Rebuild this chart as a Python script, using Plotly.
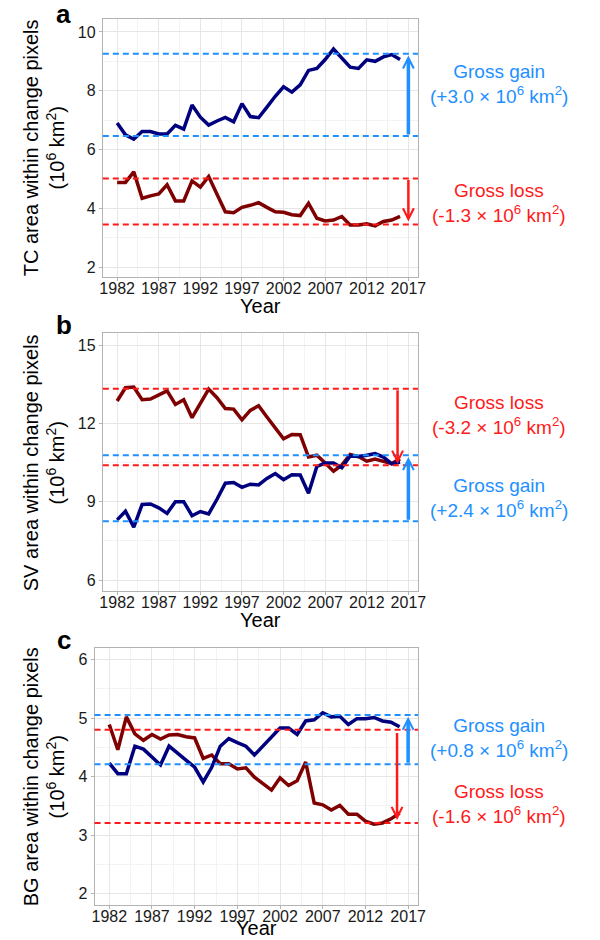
import plotly.graph_objects as go

years = list(range(1982, 2017))

# Panel a: tree cover (TC)
tc_gain = [6.90, 6.50, 6.35, 6.61, 6.61, 6.53, 6.53, 6.82, 6.69, 7.51,
           7.10, 6.83, 6.97, 7.09, 6.94, 7.56, 7.12, 7.08, 7.44, 7.81,
           8.13, 7.95, 8.20, 8.69, 8.76, 9.06, 9.42, 9.11, 8.80, 8.76,
           9.05, 9.00, 9.15, 9.23, 9.06]
tc_loss = [4.88, 4.88, 5.24, 4.34, 4.42, 4.49, 4.80, 4.25, 4.25, 4.93,
           4.72, 5.08, 4.48, 3.88, 3.85, 4.03, 4.10, 4.19, 4.03, 3.88,
           3.86, 3.78, 3.75, 4.17, 3.66, 3.57, 3.60, 3.72, 3.43, 3.43,
           3.47, 3.40, 3.55, 3.60, 3.72]

# Panel b: short vegetation (SV)
sv_gain = [8.31, 8.64, 8.03, 8.90, 8.92, 8.77, 8.56, 9.01, 9.01, 8.47,
           8.63, 8.54, 9.10, 9.72, 9.74, 9.56, 9.68, 9.65, 9.90, 10.09,
           9.85, 10.04, 10.03, 9.33, 10.36, 10.49, 10.49, 10.31, 10.76, 10.74,
           10.79, 10.85, 10.72, 10.46, 10.53]
sv_loss = [12.87, 13.38, 13.41, 12.92, 12.95, 13.10, 13.26, 12.74, 12.92, 12.23,
           12.77, 13.33, 13.00, 12.58, 12.56, 12.15, 12.51, 12.69, 12.26, 11.85,
           11.42, 11.59, 11.58, 10.72, 10.79, 10.49, 10.18, 10.41, 10.82, 10.74,
           10.56, 10.64, 10.55, 10.47, 10.65]

# Panel c: bare ground (BG)
bg_gain = [4.23, 4.05, 4.05, 4.52, 4.47, 4.34, 4.20, 4.52, 4.40, 4.29,
           4.16, 3.91, 4.16, 4.52, 4.65, 4.58, 4.52, 4.37, 4.53, 4.69,
           4.83, 4.83, 4.72, 4.95, 4.97, 5.09, 5.02, 5.03, 4.89, 4.99,
           4.99, 5.01, 4.95, 4.93, 4.85]
bg_loss = [4.89, 4.46, 5.02, 4.73, 4.62, 4.72, 4.64, 4.71, 4.72, 4.68,
           4.66, 4.31, 4.37, 4.22, 4.22, 4.13, 4.15, 3.99, 3.88, 3.77,
           3.98, 3.85, 3.93, 4.25, 3.55, 3.52, 3.43, 3.51, 3.36, 3.36,
           3.24, 3.19, 3.21, 3.28, 3.38]

# Dashed reference levels [low, high]
tc_gain_levels = [6.46, 9.26]
tc_loss_levels = [3.45, 5.01]
sv_gain_levels = [8.26, 10.79]
sv_loss_levels = [10.41, 13.34]
bg_gain_levels = [4.21, 5.05]
bg_loss_levels = [3.21, 4.80]

# Arrows: (x year, start, end)
tc_gain_arrow = (2017.0, 6.46, 9.20)
tc_loss_arrow = (2017.0, 5.01, 3.55)
sv_gain_arrow = (2017.0, 8.26, 10.72)
sv_loss_arrow = (2015.7, 13.34, 10.46)
bg_gain_arrow = (2017.0, 4.21, 5.02)
bg_loss_arrow = (2015.7, 4.77, 3.26)

gain_labels = ["Gross gain<br>(+3.0 × 10<sup>6</sup> km<sup>2</sup>)",
               "Gross gain<br>(+2.4 × 10<sup>6</sup> km<sup>2</sup>)",
               "Gross gain<br>(+0.8 × 10<sup>6</sup> km<sup>2</sup>)"]
loss_labels = ["Gross loss<br>(-1.3 × 10<sup>6</sup> km<sup>2</sup>)",
               "Gross loss<br>(-3.2 × 10<sup>6</sup> km<sup>2</sup>)",
               "Gross loss<br>(-1.6 × 10<sup>6</sup> km<sup>2</sup>)"]
y_titles = ["TC area within change pixels<br>(10<sup>6</sup> km<sup>2</sup>)",
            "SV area within change pixels<br>(10<sup>6</sup> km<sup>2</sup>)",
            "BG area within change pixels<br>(10<sup>6</sup> km<sup>2</sup>)"]
panel_letters = ["a", "b", "c"]
x_ticks = [1982, 1987, 1992, 1997, 2002, 2007, 2012, 2017]

NAVY = "#00007f"
DARKRED = "#7f0000"
BLUE = "#1e90ff"
RED = "#ff1a1a"
FONT = "Liberation Sans, Arial, sans-serif"
W, H = 600, 940

panels = [
    dict(gain=tc_gain, loss=tc_loss, gl=tc_gain_levels, ll=tc_loss_levels,
         ga=tc_gain_arrow, la=tc_loss_arrow, yr=[1.66, 10.44], dt=2, t0=2,
         px=(101.7, 422.7), py=(19, 277), gain_y=83.5, loss_y=203.5, title_y=148,
         year_y=306, letter_y=14),
    dict(gain=sv_gain, loss=sv_loss, gl=sv_gain_levels, ll=sv_loss_levels,
         ga=sv_gain_arrow, la=sv_loss_arrow, yr=[5.58, 15.47], dt=3, t0=6,
         px=(101.7, 422.7), py=(333.3, 591), gain_y=498.5, loss_y=415, title_y=463,
         year_y=620, letter_y=325),
    dict(gain=bg_gain, loss=bg_loss, gl=bg_gain_levels, ll=bg_loss_levels,
         ga=bg_gain_arrow, la=bg_loss_arrow, yr=[1.81, 6.19], dt=1, t0=2,
         px=(93.3, 422.7), py=(648.3, 905), gain_y=737.5, loss_y=803.5, title_y=777,
         year_y=None, letter_y=640),
]

fig = go.Figure()
annotations = []
shapes = []
xrange_ = [1980.28, 2018.15]

for i, p in enumerate(panels):
    n = "" if i == 0 else str(i + 1)
    xa, ya = "x" + n, "y" + n
    fig.add_trace(go.Scatter(x=years, y=p["loss"], mode="lines", xaxis=xa, yaxis=ya,
                             line=dict(color=DARKRED, width=3.5), showlegend=False))
    fig.add_trace(go.Scatter(x=years, y=p["gain"], mode="lines", xaxis=xa, yaxis=ya,
                             line=dict(color=NAVY, width=3.5), showlegend=False))
    for lev, col in [(p["gl"][0], BLUE), (p["gl"][1], BLUE),
                     (p["ll"][0], RED), (p["ll"][1], RED)]:
        shapes.append(dict(type="line", xref=xa + " domain", yref=ya, x0=0, x1=1,
                           y0=lev, y1=lev, line=dict(color=col, width=2, dash="6px,4px"),
                           layer="above"))
    for arr, col, w, sz in [(p["ga"], BLUE, 3.5, 0.6), (p["la"], RED, 2.5, 0.85)]:
        annotations.append(dict(x=arr[0], y=arr[2], ax=arr[0], ay=arr[1],
                                xref=xa, yref=ya, axref=xa, ayref=ya, text="",
                                showarrow=True, arrowhead=5, arrowsize=sz,
                                arrowwidth=w, arrowcolor=col))
    # right-hand labels
    annotations.append(dict(x=505 / W, y=1 - p["gain_y"] / H, xref="paper", yref="paper",
                            text=gain_labels[i], showarrow=False, xanchor="center",
                            yanchor="middle", font=dict(color=BLUE, size=19, family=FONT)))
    annotations.append(dict(x=505 / W, y=1 - p["loss_y"] / H, xref="paper", yref="paper",
                            text=loss_labels[i], showarrow=False, xanchor="center",
                            yanchor="middle", font=dict(color=RED, size=19, family=FONT)))
    # y title
    annotations.append(dict(x=42 / W, y=1 - p["title_y"] / H, xref="paper", yref="paper",
                            text=y_titles[i], showarrow=False, textangle=-90,
                            xanchor="center", yanchor="middle",
                            font=dict(color="black", size=20, family=FONT)))
    # x title
    xmid = ((p["px"][0] + p["px"][1]) / 2) / W
    if p["year_y"] is None:
        annotations.append(dict(x=xmid, y=0, xref="paper", yref="paper", text="Year",
                                showarrow=False, xanchor="center", yanchor="bottom",
                                borderpad=0,
                                font=dict(color="black", size=20, family=FONT)))
    else:
        annotations.append(dict(x=xmid, y=1 - p["year_y"] / H, xref="paper", yref="paper",
                                text="Year", showarrow=False, xanchor="center",
                                yanchor="middle", borderpad=0,
                                font=dict(color="black", size=20, family=FONT)))
    # panel letter
    annotations.append(dict(x=62 / W, y=1 - p["letter_y"] / H, xref="paper", yref="paper",
                            text="<b>" + panel_letters[i] + "</b>", showarrow=False,
                            xanchor="center", yanchor="middle",
                            font=dict(color="black", size=26, family=FONT)))

    axis_common = dict(showline=True, mirror=True, linecolor="#b3b3b3", linewidth=1,
                       showgrid=True, gridcolor="#e6e6e6", gridwidth=1,
                       ticks="outside", ticklen=3, tickcolor="#b3b3b3",
                       tickfont=dict(size=16, color="#1a1a1a", family=FONT),
                       zeroline=False)
    fig.layout["xaxis" + n] = dict(
        axis_common, domain=[p["px"][0] / W, p["px"][1] / W], anchor=ya,
        range=xrange_, tickmode="array", tickvals=x_ticks,
        ticktext=[str(t) for t in x_ticks], ticklabelstandoff=-6,
        minor=dict(tickvals=[t + 2.5 for t in x_ticks[:-1]], showgrid=True,
                   gridcolor="#f3f3f3", ticks=""))
    fig.layout["yaxis" + n] = dict(
        axis_common, domain=[1 - p["py"][1] / H, 1 - p["py"][0] / H], anchor=xa,
        range=p["yr"], tick0=p["t0"], dtick=p["dt"],
        minor=dict(dtick=p["dt"] / 2, tick0=p["t0"], showgrid=True,
                   gridcolor="#f3f3f3", ticks=""))

fig.update_layout(width=W, height=H, margin=dict(l=0, r=0, t=0, b=0),
                  paper_bgcolor="white", plot_bgcolor="white",
                  annotations=annotations, shapes=shapes, showlegend=False,
                  font=dict(family=FONT))
fig.write_html("out.html", config={"displayModeBar": False},
               post_script="document.body.style.margin='0';"
                           "document.body.style.overflow='hidden';")
